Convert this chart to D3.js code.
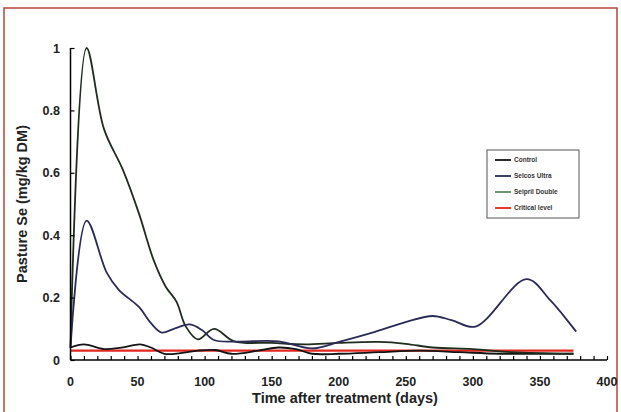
<!DOCTYPE html>
<html>
<head>
<meta charset="utf-8">
<script src="https://cdn.jsdelivr.net/npm/d3@7"></script>
<style>
  body { margin: 0; background: #fff; }
  svg { display: block; font-family: "Liberation Sans", Arial, sans-serif; }
</style>
</head>
<body>
<svg id="chart"></svg>
<script>
// days after treatment and pasture Se (mg/kg DM)
var controlDays = [0, 10, 25, 38, 52, 60, 70, 82, 95, 108, 120, 140, 155, 168, 180, 200, 230, 260, 290, 320, 375]
var controlVals = [0.04, 0.05, 0.035, 0.04, 0.05, 0.04, 0.02, 0.022, 0.03, 0.032, 0.02, 0.03, 0.04, 0.035, 0.02, 0.02, 0.025, 0.03, 0.025, 0.02, 0.02]

var selcosDays = [0, 12, 27, 36, 51, 60, 68, 77, 89, 98, 107, 124, 155, 180, 201, 227, 251, 270, 284, 302, 340, 358, 377]
var selcosVals = [0.04, 0.447, 0.28, 0.225, 0.17, 0.118, 0.088, 0.10, 0.114, 0.096, 0.064, 0.059, 0.06, 0.037, 0.059, 0.09, 0.123, 0.141, 0.128, 0.107, 0.259, 0.19, 0.091]

var seiprilDays = [0, 12, 25, 39, 51, 62, 71, 79, 86, 95, 107, 122, 150, 175, 200, 230, 250, 270, 300, 330, 375]
var seiprilVals = [0.04, 1.0, 0.74, 0.61, 0.47, 0.32, 0.235, 0.187, 0.107, 0.066, 0.10, 0.06, 0.055, 0.05, 0.055, 0.058, 0.052, 0.04, 0.035, 0.025, 0.02]

var criticalDays = [0, 375]
var criticalVals = [0.03, 0.03]

var seriesNames = ["Control", "Selcos Ultra", "Seipril Double", "Critical level"]
var xTicks = [0, 50, 100, 150, 200, 250, 300, 350, 400]
var yTicks = [0, 0.2, 0.4, 0.6, 0.8, 1]

var width = 621, height = 412
var margin = {top: 48, right: 14, bottom: 52, left: 70.5}

var svg = d3.select("#chart")
    .attr("width", width)
    .attr("height", height)

// scanned page frame
svg.append("path")
    .attr("d", "M4,420 L4,8 L617,8 L617,420")
    .attr("fill", "none")
    .attr("stroke", "#b4473a")
    .attr("stroke-width", 1.5)

var x = d3.scaleLinear().domain([0, 400]).range([margin.left, 607])
var y = d3.scaleLinear().domain([0, 1]).range([360, margin.top])

var colors = ["#141414", "#2b2b58", "#1f2d1f", "#e3261f"]
var legendColors = ["#141414", "#2b2b58", "#5d8a5d", "#e3261f"]

var series = [
  d3.zip(controlDays, controlVals),
  d3.zip(selcosDays, selcosVals),
  d3.zip(seiprilDays, seiprilVals),
  d3.zip(criticalDays, criticalVals)
]

var line = d3.line()
    .x(function (d) { return x(d[0]) })
    .y(function (d) { return y(d[1]) })
    .curve(d3.curveCatmullRom.alpha(0.5))

// critical level first, then the treatments on top
var order = [3, 0, 2, 1]
order.forEach(function (i) {
  svg.append("path")
    .datum(series[i])
    .attr("fill", "none")
    .attr("stroke", colors[i])
    .attr("stroke-width", i == 3 ? 2.2 : 1.8)
    .attr("d", line)
})

// x axis, ticks pointing inwards
var xAxis = svg.append("g")
    .attr("transform", "translate(0,360)")
    .call(d3.axisTop(x).tickValues(d3.range(0, 401, 10)).tickSize(4).tickFormat(""))
xAxis.select(".domain").attr("stroke-width", 1.5).attr("d", "M" + x(0) + ",0H" + x(400))
xAxis.selectAll(".tick line").attr("stroke-width", 1.2)

svg.append("g").selectAll("text")
    .data(xTicks)
    .enter().append("text")
    .attr("x", function (d) { return x(d) })
    .attr("y", 386)
    .attr("text-anchor", "middle")
    .attr("font-size", 12.5)
    .attr("font-weight", "bold")
    .attr("fill", "#222")
    .text(function (d) { return d })

// y axis
var yAxis = svg.append("g")
    .attr("transform", "translate(" + margin.left + ",0)")
    .call(d3.axisRight(y).tickValues(yTicks).tickSize(4).tickFormat(""))
yAxis.select(".domain").attr("stroke-width", 1.5).attr("d", "M0," + y(0) + "V" + y(1))
yAxis.selectAll(".tick line").attr("stroke-width", 1.2)

svg.append("g").selectAll("text")
    .data(yTicks)
    .enter().append("text")
    .attr("x", 60)
    .attr("y", function (d) { return y(d) + 4.5 })
    .attr("text-anchor", "end")
    .attr("font-size", 12.5)
    .attr("font-weight", "bold")
    .attr("fill", "#222")
    .text(function (d) { return d })

svg.append("text")
    .attr("x", 345)
    .attr("y", 403)
    .attr("text-anchor", "middle")
    .attr("font-size", 14.5)
    .attr("font-weight", "bold")
    .attr("fill", "#222")
    .text("Time after treatment (days)")

svg.append("text")
    .attr("transform", "translate(27,204) rotate(-90)")
    .attr("text-anchor", "middle")
    .attr("font-size", 14.5)
    .attr("font-weight", "bold")
    .attr("fill", "#222")
    .text("Pasture Se (mg/kg DM)")

// legend
var lg = svg.append("g").attr("transform", "translate(487,150)")
lg.append("rect")
    .attr("width", 92)
    .attr("height", 68)
    .attr("fill", "#fff")
    .attr("stroke", "#555")
    .attr("stroke-width", 1)

seriesNames.forEach(function (name, i) {
  var yy = 10 + i * 16
  lg.append("line")
    .attr("x1", 8).attr("x2", 24)
    .attr("y1", yy).attr("y2", yy)
    .attr("stroke", legendColors[i])
    .attr("stroke-width", 1.8)
  lg.append("text")
    .attr("x", 27)
    .attr("y", yy + 2.2)
    .attr("font-size", 6.5)
    .attr("font-weight", "bold")
    .attr("fill", "#333")
    .text(name)
})
</script>
</body>
</html>
